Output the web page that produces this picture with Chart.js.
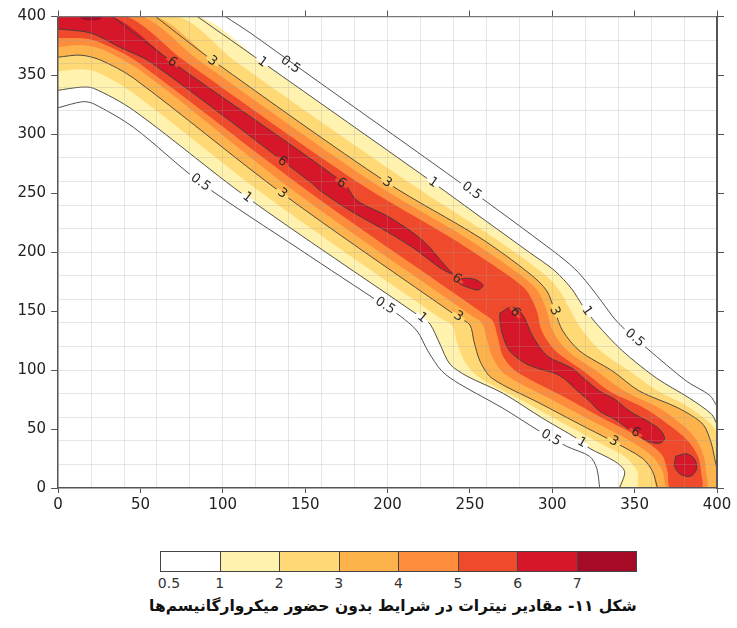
<!DOCTYPE html>
<html>
<head>
<meta charset="utf-8">
<script src="https://cdn.jsdelivr.net/npm/chart.js@4.4.1/dist/chart.umd.min.js"></script>
<style>
  body { margin: 0; background: #fff; width: 737px; height: 628px; position: relative; overflow: hidden; font-family: "DejaVu Sans", sans-serif; }
  #wrap { position: absolute; left: 0; top: 0; width: 737px; height: 520px; }
  #bar { position: absolute; left: 160px; top: 551px; width: 477px; height: 21px; display: flex; border: 1px solid #444; box-sizing: border-box; }
  #bar div { flex: 1; border-right: 1px solid #444; }
  #bar div:last-child { border-right: none; }
  .cb-lab { position: absolute; top: 574px; font-size: 14px; line-height: 18px; color: #333; transform: translateX(-50%); }
  #caption { position: absolute; left: 93px; width: 600px; top: 597px; text-align: center; font-weight: bold; font-size: 15.5px; color: #111; direction: rtl; white-space: nowrap; }
</style>
</head>
<body>
<div id="wrap"><canvas id="c" width="737" height="520"></canvas></div>
<div id="bar"></div>
<div id="caption">شکل ۱۱- مقادیر نیترات در شرایط بدون حضور میکروارگانیسم‌ها</div>
<script>
// =======================
// Niveles y colores
const levels = [0.5, 1, 2, 3, 4, 5, 6, 7];
const levelColors = ["#ffffff", "#fff1ae", "#fed976", "#feb24c", "#fd8d3c", "#f04a2c", "#d6172a", "#a50a26"];

// Curvas de nivel (x, y): "upper" va del borde superior
// al borde derecho/inferior, "lower" del borde izquierdo al inferior
const upper05 = [[101.5,400],[116.7,386],[148.2,354.5],[248.2,254.9],[300.3,201.3],[313.6,186],[322.7,171.5],[330.6,157],[337.9,143.4],[345.8,132.3],[357.3,118.7],[381.5,90.6],[395.5,78.7],[400,69.4]];
const lower05 = [[0,322.6],[14.8,327.7],[21.5,326],[45.8,305.9],[86.4,259.1],[147,202.1],[198.5,154.5],[207.6,146],[217.9,133.2],[224.5,116.2],[233,99.1],[243.9,88.1],[270,67.7],[292.4,48.1],[308.8,35.3],[322.7,26.8],[327,16.6],[328.8,0]];
const upper1 = [[84.5,400],[123.9,361.3],[227.6,259.1],[256.1,230.2],[286.4,199.6],[301.5,184.3],[311.8,168.9],[318.5,154.5],[327,139.1],[342.7,116.2],[363.3,93.2],[383.3,76.2],[396.7,62.6],[400,54]];
const lower1 = [[0,337.4],[13.6,340],[21.5,339.1],[45.8,320.4],[114.8,246.4],[220.9,144.3],[225.8,139.1],[231.8,122.1],[237.9,105.1],[248.2,94.9],[270,80.4],[294.2,59.1],[314.8,42.1],[322.7,33.6],[337.9,22.6],[343.9,14],[340.9,0]];
const upper2 = [[72.4,400],[108.2,361.3],[213,259.1],[264.5,212.3],[294.8,181.7],[304.5,167.2],[311.2,150.2],[318.5,133.2],[329.4,116.2],[347,99.1],[364.5,82.1],[383.9,67.7],[400,46.4]];
const lower2 = [[0,353.6],[13.6,355.3],[23.9,352.8],[45.8,334.9],[125.8,248.1],[231.8,144.3],[239.1,138.3],[242.1,123.8],[247,106.8],[255.5,94],[280.3,75.3],[304.5,56.6],[325.8,40.4],[343.9,26.8],[351.8,14],[353,0]];
const upper3 = [[59.1,400],[93.6,363],[199.7,259.1],[256.1,212.3],[286.4,181.7],[296.7,167.2],[301.5,150.2],[306.4,133.2],[316.7,116.2],[336.7,99.1],[353,82.1],[376.7,67.7],[391.5,54],[396.5,38],[398.6,25],[400,16]];
const lower3 = [[0,365.5],[13.6,367.2],[25.8,363],[45.8,347.7],[136.1,249.8],[242.7,145.1],[250,138.3],[252.4,124.7],[256.1,107.7],[263.3,93.2],[292.4,71.9],[316.7,54],[336.7,39.6],[354.8,25.1],[360.9,14],[363.9,0]];
const upper4 = [[50.6,400],[85.2,363],[191.2,259.1],[247.6,212.3],[279.7,181.7],[291.2,167.2],[296.7,150.2],[300.3,133.2],[309.4,116.2],[327,99.1],[344,82.1],[365.2,67.7],[380,52.3],[388,39.6],[392,26.8],[393.5,12.3],[393.6,0]];
const lower4 = [[0,374],[14.8,375.7],[27.6,371.5],[53,351.1],[145.2,249.8],[251.2,146],[257.3,140],[260.3,126.4],[263.9,110.2],[271.2,96.6],[300.3,74.5],[324.5,56.6],[344.5,42.1],[360.9,26.8],[367,14],[370,0]];
const upper5 = [[41.5,400],[76.1,363],[182.1,259.1],[238.5,212.3],[271.8,181.7],[284.5,167.2],[290.6,150.2],[293.6,133.2],[302.1,116.2],[319.1,99.1],[334.8,82.1],[356.1,67.7],[372,52.3],[382.5,39.6],[388.5,26.8],[390.3,14],[390.5,0]];
const lower5 = [[0,381.7],[18.5,380.9],[33,373.2],[48.2,361.3],[153.6,249.8],[258.5,147.7],[263.9,141.7],[266.9,128.1],[270,111.9],[277.9,99.1],[307.6,77],[331.8,58.3],[351.8,43.8],[366.4,28.5],[370,14],[371.8,0]];
const upper6 = [[33,400],[69.4,361.3],[173,259.1],[181.5,243.8],[201.5,229.4],[221.5,209.8],[236.1,186.8],[240.9,180]];
const lower6 = [[0,389.4],[19.7,386],[37.9,373.6],[56.1,361.3],[153.6,259.1],[159.1,252.3],[177.3,235.3],[195.5,220.9],[215.5,203.8],[231.8,186.8],[240.9,180]];
const island6a = [[242,176],[247,178],[253,177],[258,172],[255,168],[249,170],[244,173]];
const island6b = [[268.2,148.5],[275.5,153.6],[282,147],[288,129],[297,112],[311.8,101.7],[319.7,92.3],[328.8,82.1],[337.9,75.3],[347,65.1],[357.9,56.6],[365.2,49.8],[368.2,42.1],[365.2,37.9],[357.9,39.6],[348.2,48.1],[337.9,58.3],[328.8,65.1],[322.7,73.6],[315.5,82.1],[307.6,92.3],[301.5,97.4],[292.4,100.9],[283.3,106],[274.2,116.2],[270,128.9],[268.2,141.7]];
const island6c = [[374.8,26.8],[381.5,29],[386.5,24.3],[387.5,15.7],[384,10],[377.9,11.5],[374.2,18.3]];
const blob7 = [[12,400],[15,397.5],[20,396.6],[25,397.5],[27,400]];

// Etiquetas de las curvas: texto, x, y, angulo
const contourLabels = [
  ["6", 69.4, 361.3, 36], ["3", 93.6, 362, 36], ["1", 123.9, 361.3, 36], ["0.5", 141, 359, 36],
  ["6", 136.1, 277, 37], ["6", 172, 258.6, 36], ["3", 199.7, 259.1, 35], ["1", 227.6, 259.1, 35], ["0.5", 251, 252, 36],
  ["0.5", 86.4, 259.1, 36], ["1", 114.8, 246.4, 36], ["3", 136.1, 249.8, 36],
  ["0.5", 198.5, 154.5, 33], ["1", 220.9, 144.3, 40], ["3", 243, 145.5, 33], ["6", 242.1, 177.4, 35], ["6", 277.3, 149, 50],
  ["3", 301.5, 150.2, 68], ["1", 321, 150.2, 55], ["0.5", 350, 127.2, 40],
  ["0.5", 299.1, 42.5, 30], ["1", 317.9, 38.5, 30], ["3", 337.3, 39.6, 30], ["6", 350.6, 47, 32],
];

// =======================
// Utilidades
const toPts = (arr) => arr.map(([x, y]) => ({ x, y }));
const ring = (upper, lower) => {
  const pts = [[0, 400], ...upper];
  const end = upper[upper.length - 1];
  if (end[0] === 400 && end[1] > 0) pts.push([400, 0]);
  return pts.concat([...lower].reverse());
};
const closed = (arr) => arr.concat([arr[0]]);
const smooth = 0.3;

const areaSet = (pts, level) => ({
  data: toPts(pts),
  fill: "shape",
  tension: smooth,
  backgroundColor: levelColors[levels.indexOf(level)],
  borderColor: "rgba(0,0,0,0)",
  borderWidth: 0,
  pointRadius: 0,
  order: 40 - levels.indexOf(level),
});
const lineSet = (pts) => ({
  data: toPts(pts),
  fill: false,
  tension: smooth,
  borderColor: "#3d3d3d",
  borderWidth: 0.9,
  pointRadius: 0,
  order: 1,
});

const datasets = [
  areaSet(ring(upper1, lower1), 1),
  areaSet(ring(upper2, lower2), 2),
  areaSet(ring(upper3, lower3), 3),
  areaSet(ring(upper4, lower4), 4),
  areaSet(ring(upper5, lower5), 5),
  areaSet(ring(upper6, lower6), 6),
  areaSet(island6a, 6),
  areaSet(island6b, 6),
  areaSet(island6c, 6),
  areaSet(blob7, 7),
  lineSet(upper05), lineSet(lower05),
  lineSet(upper1), lineSet(lower1),
  lineSet(upper3), lineSet(lower3),
  lineSet(upper6.concat([...lower6].reverse())),
  lineSet(closed(island6a)), lineSet(closed(island6b)), lineSet(closed(island6c)),
];

// =======================
// Plugin: etiquetas sobre las curvas
const labelPlugin = {
  id: "contourLabels",
  afterDraw(chart) {
    const { ctx } = chart;
    const sx = chart.scales.x, sy = chart.scales.y;
    ctx.save();
    ctx.font = '13px "DejaVu Sans"';
    ctx.textAlign = "center";
    ctx.textBaseline = "middle";
    contourLabels.forEach(([t, x, y, a]) => {
      const px = sx.getPixelForValue(x), py = sy.getPixelForValue(y);
      const i = levels.indexOf(Number(t));
      ctx.save();
      ctx.translate(px, py);
      ctx.rotate((a * Math.PI) / 180);
      const w = ctx.measureText(t).width + 6;
      ctx.fillStyle = levelColors[Math.max(i - 1, 0)];
      ctx.fillRect(-w / 2, -1.6, w, 3.2);
      ctx.fillStyle = "#2b2b2b";
      ctx.fillText(t, 0, 0);
      ctx.restore();
    });
    ctx.restore();
  },
};

// =======================
// Ejes
const gridColor = (c) => (c.tick && c.tick.value % 20 === 0 && c.tick.value > 0 && c.tick.value < 400 ? "rgba(160,160,160,0.26)" : "rgba(0,0,0,0)");
const tickColor = (c) => (c.tick && c.tick.value % 50 === 0 ? "#555" : "rgba(0,0,0,0)");
const tickFont = { family: "DejaVu Sans", size: 15 };

new Chart(document.getElementById("c"), {
  type: "line",
  data: { datasets },
  options: {
    responsive: false,
    animation: false,
    layout: { padding: { left: 12.5, right: 13, top: 10.5, bottom: 3 } },
    plugins: { legend: { display: false }, tooltip: { enabled: false } },
    scales: {
      x: {
        type: "linear", min: 0, max: 400, position: "bottom",
        ticks: { stepSize: 10, autoSkip: false, maxRotation: 0, padding: 3, color: "#222", font: tickFont, callback: (v) => (v % 50 === 0 ? v : "") },
        grid: { z: 1, color: gridColor, tickColor, tickLength: 5, lineWidth: 1 },
        border: { z: 2, color: "#555", width: 1.5 },
      },
      y: {
        type: "linear", min: 0, max: 400, position: "left",
        ticks: { stepSize: 10, autoSkip: false, padding: 5, color: "#222", font: tickFont, callback: (v) => (v % 50 === 0 ? v : "") },
        grid: { z: 1, color: gridColor, tickColor, tickLength: 7, lineWidth: 1 },
        border: { z: 2, color: "#555", width: 1.5 },
      },
      x2: {
        type: "linear", min: 0, max: 400, position: "top",
        ticks: { display: false, stepSize: 50 },
        grid: { drawOnChartArea: false, tickLength: 6, tickColor: "#555" },
        border: { z: 2, color: "#777", width: 1.3 },
      },
      y2: {
        type: "linear", min: 0, max: 400, position: "right",
        ticks: { display: false, stepSize: 50 },
        grid: { drawOnChartArea: false, tickLength: 7, tickColor: "#555" },
        border: { z: 2, color: "#555", width: 2 },
      },
    },
  },
  plugins: [labelPlugin],
});

// =======================
// Barra de colores
const bar = document.getElementById("bar");
levels.forEach((lv, i) => {
  const cell = document.createElement("div");
  cell.style.background = levelColors[i];
  bar.appendChild(cell);
  const lab = document.createElement("span");
  lab.className = "cb-lab";
  lab.textContent = lv;
  lab.style.left = 160 + i * 59.6 + (i === 0 ? 9 : 0) + "px";
  document.body.appendChild(lab);
});
</script>
</body>
</html>
